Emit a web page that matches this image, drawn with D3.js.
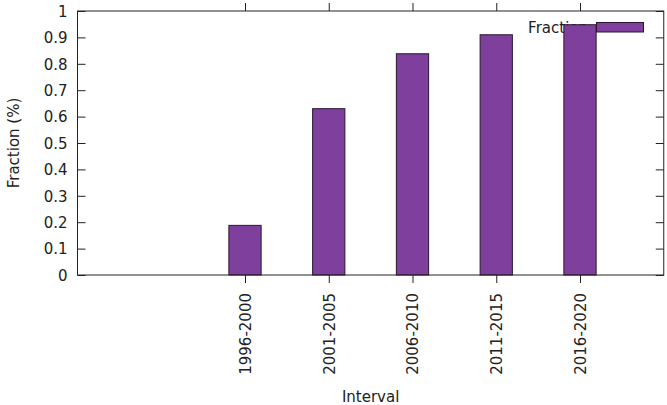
<!DOCTYPE html>
<html><head><meta charset="utf-8">
<script src="https://cdn.jsdelivr.net/npm/d3@7"></script>
<style>body{margin:0;background:#fff}svg{display:block}text{font-family:"DejaVu Sans",sans-serif;font-size:15px;fill:#222}</style>
</head><body>
<script>
const categories = ["1996-2000","2001-2005","2006-2010","2011-2015","2016-2020"];
const values = [0.188, 0.630, 0.838, 0.910, 0.948];
const yTicks = [0,0.1,0.2,0.3,0.4,0.5,0.6,0.7,0.8,0.9,1];
const yTickLabels = ["0","0.1","0.2","0.3","0.4","0.5","0.6","0.7","0.8","0.9","1"];
const seriesName = "Fraction";

const W=667,H=405;
const L=77.5,R=663.75,T=11,B=275;
const FS=15;
const svg=d3.select("body").append("svg").attr("width",W).attr("height",H);
const x=d3.scaleLinear().domain([-2,5]).range([L,R]);
const y=d3.scaleLinear().domain([0,1]).range([B,T]);
const bw=0.385;
const fill="#7f3f9d", stroke="#2a1630", axisC="#222";

// legend text (drawn under bars)
svg.append("text").attr("x",588).attr("y",33).attr("text-anchor","end").text(seriesName);

// bars
svg.selectAll("rect.bar").data(values).join("rect")
  .attr("x",(d,i)=>x(i-bw/2)).attr("width",x(bw)-x(0))
  .attr("y",d=>y(d)).attr("height",d=>y(0)-y(d))
  .attr("fill",fill).attr("stroke",stroke).attr("stroke-width",1);

// legend sample
svg.append("rect").attr("x",596.5).attr("y",22.5).attr("width",47).attr("height",9.5)
  .attr("fill",fill).attr("stroke",stroke).attr("stroke-width",1);

// frame
svg.append("rect").attr("x",L).attr("y",T).attr("width",R-L).attr("height",B-T)
  .attr("fill","none").attr("stroke",axisC).attr("stroke-width",1);

// y ticks
const yl=d3.axisLeft(y).tickValues(yTicks).tickFormat((d,i)=>yTickLabels[i]).tickSize(-8).tickPadding(10);
const gy=svg.append("g").attr("transform",`translate(${L},0)`).call(yl);
gy.select(".domain").remove();
gy.selectAll("line").attr("stroke",axisC);
gy.selectAll("text").attr("font-size",FS).attr("font-family","DejaVu Sans").attr("fill","#222").attr("dy","0.35em");
const yr=d3.axisRight(y).tickValues(yTicks).tickFormat("").tickSize(-8);
const gyr=svg.append("g").attr("transform",`translate(${R},0)`).call(yr);
gyr.select(".domain").remove(); gyr.selectAll("line").attr("stroke",axisC);

// x ticks
const idx=categories.map((c,i)=>i);
const xb=d3.axisBottom(x).tickValues(idx).tickFormat(i=>categories[i]).tickSize(8).tickPadding(10);
const gx=svg.append("g").attr("transform",`translate(0,${B})`).call(xb);
gx.select(".domain").remove(); gx.selectAll("line").attr("stroke",axisC);
gx.selectAll("text").attr("font-size",FS).attr("font-family","DejaVu Sans").attr("fill","#222")
  .attr("transform","rotate(-90)").attr("text-anchor","end").attr("x",-18).attr("y",0).attr("dy","0.35em");
const xt=d3.axisTop(x).tickValues(idx).tickFormat("").tickSize(8);
const gxt=svg.append("g").attr("transform",`translate(0,${T})`).call(xt);
gxt.select(".domain").remove(); gxt.selectAll("line").attr("stroke",axisC);

// axis titles
svg.append("text").attr("x",(L+R)/2).attr("y",402).attr("text-anchor","middle").text("Interval");
svg.append("text").attr("transform",`translate(18.5,143) rotate(-90)`).attr("text-anchor","middle").text("Fraction (%)");
</script>
</body></html>
